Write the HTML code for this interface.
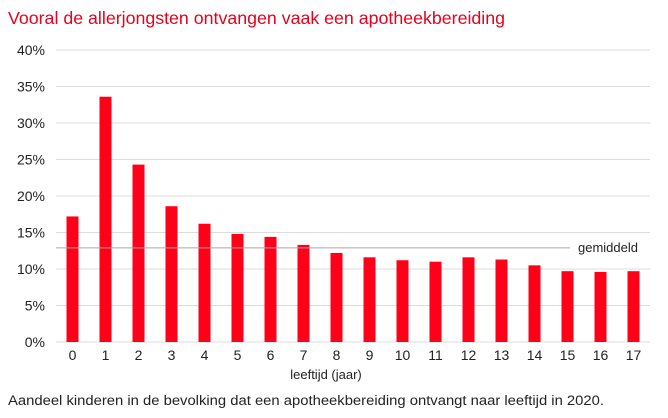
<!DOCTYPE html>
<html><head><meta charset="utf-8"><style>
body{margin:0;background:#fff;font-family:"Liberation Sans",sans-serif;}
svg{display:block}
</style></head><body>
<svg width="668" height="418">
<text x="8" y="24" font-size="17.5" fill="#e8001c" textLength="497" lengthAdjust="spacingAndGlyphs">Vooral de allerjongsten ontvangen vaak een apotheekbereiding</text>
<g id="grid"></g><g id="bars"></g><g id="xt"></g>
<text x="326" y="379" font-size="13" text-anchor="middle" fill="#222">leeftijd (jaar)</text>
<text x="8" y="405" font-size="13.5" fill="#222" textLength="596" lengthAdjust="spacingAndGlyphs">Aandeel kinderen in de bevolking dat een apotheekbereiding ontvangt naar leeftijd in 2020.</text>
</svg>
<script>
const categories=["0","1","2","3","4","5","6","7","8","9","10","11","12","13","14","15","16","17"];
const values=[17.2,33.6,24.3,18.6,16.2,14.8,14.4,13.3,12.2,11.6,11.2,11.0,11.6,11.3,10.5,9.7,9.6,9.7];
const yTicks=[0,5,10,15,20,25,30,35,40];
const average=[12.9];
const NS="http://www.w3.org/2000/svg";
const x0=56,x1=650,yb=342,yt=50;
const y=v=>yb-(v/40)*(yb-yt);
const bw=(x1-x0)/categories.length;
const xc=i=>x0+bw*(i+0.5);
function mk(t,a,p){const e=document.createElementNS(NS,t);for(const k in a)e.setAttribute(k,a[k]);p.appendChild(e);return e;}
const g=document.getElementById('grid');
yTicks.forEach(v=>{
 const l=mk('line',{x1:x0,x2:x1,y1:y(v),y2:y(v),stroke:'#dcdcdc','stroke-width':1},g);
 
 
 const t=mk('text',{x:45,y:y(v)+5,'font-size':14,'text-anchor':'end',fill:'#222'},g);
 t.textContent=v+'%';
 
 
});
const b=document.getElementById('bars');
values.forEach((v,i)=>{
 const r=mk('rect',{x:xc(i)-6,y:y(v),width:12,height:yb-y(v),fill:'#ff0019'},b);
 
 
 const t=mk('text',{x:xc(i),y:360,'font-size':14,'text-anchor':'middle',fill:'#222'},document.getElementById('xt'));
 t.textContent=categories[i];
 
 
});
const al=mk('line',{x1:x0,x2:570,y1:y(average[0]),y2:y(average[0]),stroke:'#a6a6a6','stroke-width':1},b);


const at=mk('text',{x:578,y:y(average[0])+4,'font-size':13,fill:'#222'},b);
at.textContent='gemiddeld';


</script>
</body></html>
